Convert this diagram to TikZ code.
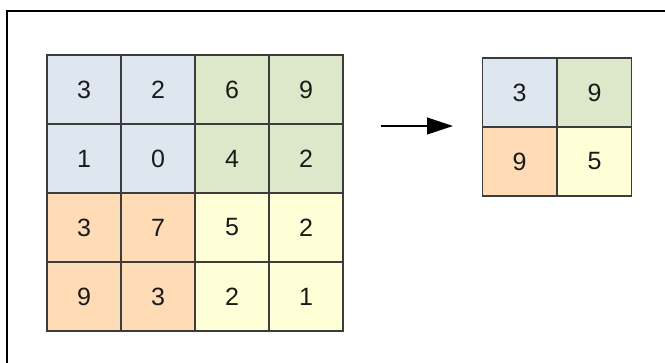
\documentclass[tikz,border=0pt]{standalone}
\usepackage{fontspec}
\setmainfont{Liberation Sans}
\usetikzlibrary{arrows.meta}
\definecolor{cblue}{HTML}{DEE6EF}
\definecolor{cgreen}{HTML}{DDE8CB}
\definecolor{corange}{HTML}{FFDBB6}
\definecolor{cyellow}{HTML}{FFFFD7}
\definecolor{cline}{HTML}{3C3C3C}
\definecolor{ctext}{HTML}{1A1A1A}
\tikzset{
  cell/.style={draw=cline, line width=1.3pt, minimum width=74pt, minimum height=69pt, inner sep=0pt, outer sep=0pt, font=\fontsize{25}{25}\selectfont, text=ctext},
}
\newcommand{\mycell}[5]{\node[cell, fill=#4] (#1) at (#2,#3) {#5};}
\begin{document}
\begin{tikzpicture}[x=1pt,y=-1pt]
\useasboundingbox (0,0) rectangle (665,363);
\fill[white] (0,0) rectangle (665,363);
\coordinate (bl) at (7,363);
\coordinate (tl) at (7,11);
\coordinate (tr) at (665,11);
\draw[line width=1.5pt] (bl) -- (tl) -- (tr);
% row 1
\mycell{a11}{84}{89.5}{cblue}{3}
\mycell{a12}{158}{89.5}{cblue}{2}
\mycell{a13}{232}{89.5}{cgreen}{6}
\mycell{a14}{306}{89.5}{cgreen}{9}
% row 2
\mycell{a21}{84}{158.5}{cblue}{1}
\mycell{a22}{158}{158.5}{cblue}{0}
\mycell{a23}{232}{158.5}{cgreen}{4}
\mycell{a24}{306}{158.5}{cgreen}{2}
% row 3
\mycell{a31}{84}{227.5}{corange}{3}
\mycell{a32}{158}{227.5}{corange}{7}
\mycell{a33}{232}{227.5}{cyellow}{5}
\mycell{a34}{306}{227.5}{cyellow}{2}
% row 4
\mycell{a41}{84}{296.5}{corange}{9}
\mycell{a42}{158}{296.5}{corange}{3}
\mycell{a43}{232}{296.5}{cyellow}{2}
\mycell{a44}{306}{296.5}{cyellow}{1}
% small matrix
\mycell{b11}{519.5}{92.5}{cblue}{3}
\mycell{b12}{594.5}{92.5}{cgreen}{9}
\mycell{b21}{519.5}{161.5}{corange}{9}
\mycell{b22}{594.5}{161.5}{cyellow}{5}
% arrow
\coordinate (as) at (381,126);
\coordinate (ae) at (453,126);
\draw[line width=1.2pt, -{Triangle[length=26pt,width=17pt]}] (as) -- (ae);
\end{tikzpicture}
\end{document}
